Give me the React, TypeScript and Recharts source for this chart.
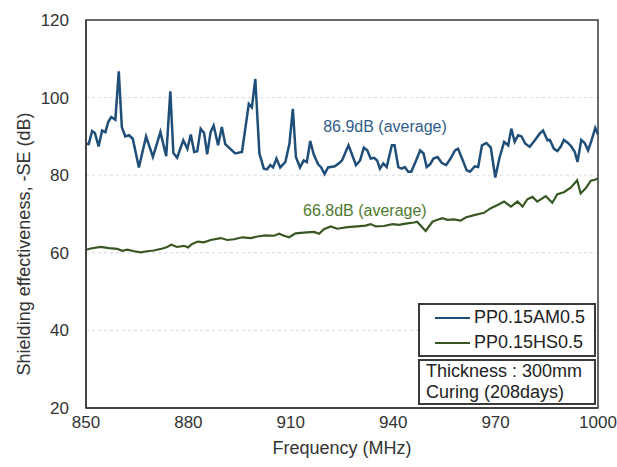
import {
  CartesianGrid,
  Legend,
  Line,
  LineChart,
  ReferenceArea,
  ReferenceDot,
  XAxis,
  YAxis,
} from 'recharts';

// PP0.15AM0.5 sweep
const amFreq = [
  850, 850.8, 851.8, 852.6, 853.7, 854.7, 855.7, 856.5, 857.4, 858.6,
  859.6, 860.5, 861.5, 862.6, 863.7, 865.5, 867.6, 869.6, 871.8, 873.5,
  874.7, 875.6, 876.7, 878.5, 879.7, 880.7, 881.7, 882.6, 883.6, 884.6,
  885.5, 886.5, 887.4, 888.7, 889.8, 890.8, 893.7, 895.7, 897.7, 898.6,
  899.6, 900.8, 902.1, 903, 904, 904.8, 905.8, 906.9, 908.4, 909.6,
  910.6, 911.5, 912.7, 913.8, 914.7, 915.7, 916.7, 918, 918.9, 919.9,
  920.9, 922.9, 924, 925, 926.9, 927.9, 929.1, 930.3, 931.4, 932.4,
  933.4, 934.4, 935.3, 936.1, 937.1, 938.1, 939.6, 940.4, 941.5, 942.5,
  943.4, 944.4, 945.3, 946.7, 947.9, 948.9, 949.8, 950.8, 951.8, 953,
  954.2, 955.5, 956.8, 958.1, 959, 960.4, 961.5, 962.5, 963.9, 964.9,
  966, 967.3, 968.6, 969.9, 971.2, 972.5, 973.7, 974.6, 975.6, 976.6,
  977.6, 978.7, 980, 981.5, 982.9, 983.9, 985.2, 985.9, 987.1, 988.1,
  989.1, 990, 991.2, 992.2, 993.2, 994, 995.1, 996.1, 997.1, 998.1,
  999.2, 1000,
];
const amSE = [
  88.1, 88, 91.4, 90.9, 87.4, 91.5, 91.1, 93.7, 95, 94.3,
  106.8, 92.4, 90, 90.3, 89.4, 82, 90, 84.7, 91.1, 84.9,
  101.6, 85.7, 84.5, 89, 86.8, 90.5, 86, 86.2, 92, 90.9,
  85.4, 91.1, 92.8, 87.7, 92.4, 88, 85.6, 86, 98.4, 97.5,
  104.8, 85.6, 81.7, 81.5, 82.6, 82, 84.3, 82, 83.4, 88.1,
  97.1, 84.7, 82, 83.8, 83.4, 88.8, 85.4, 82.8, 82, 80.3,
  82, 82.3, 83, 83.8, 87.7, 85.4, 82.6, 83.8, 87.1, 86.4,
  84.3, 84.5, 83.8, 81.7, 83, 82.1, 87.7, 87.7, 82.1, 81.7,
  82.1, 80.9, 80.9, 83.8, 86.4, 85.6, 82.1, 82.8, 84.3, 84.7,
  83.2, 82.6, 84.3, 86.4, 86.8, 83.8, 81.3, 80.9, 82.3, 82.1,
  87.7, 88.3, 87.1, 79.4, 84.7, 88.6, 87.7, 92, 88.6, 90.3,
  90, 88.1, 87.3, 89, 90.7, 91.5, 89, 89.1, 86.8, 86.2,
  87.4, 89.1, 88.3, 87.4, 86, 83.4, 89.1, 88.3, 86.4, 89,
  92.2, 90.5,
];

// PP0.15HS0.5 sweep
const hsFreq = [
  850, 851.4, 854.3, 856.7, 859.2, 860.6, 862.1, 864.1, 866, 868,
  869.9, 872.4, 873.8, 875, 876.7, 878.7, 879.9, 881.1, 882.8, 884.5,
  886.5, 889.5, 891.4, 893.4, 895.8, 898.3, 900.2, 902.6, 905.1, 906.6,
  908, 909.5, 911.4, 913.8, 916.8, 918.3, 919.7, 921.7, 923.6, 926.6,
  929.5, 931.9, 933.4, 934.9, 937.3, 939.8, 941.7, 944.1, 946.1, 947,
  949.5, 951.5, 953, 954.4, 955.9, 957.8, 959.8, 961.2, 963.7, 966.6,
  968.6, 970.6, 972.5, 974.5, 976.4, 977.9, 979.3, 980.8, 982.2, 984.7,
  986.6, 988.1, 990, 992, 993.9, 994.9, 996.4, 997.9, 999.3, 1000,
];
const hsSE = [
  60.8, 61.1, 61.5, 61.2, 61, 60.5, 60.8, 60.4, 60.1, 60.4,
  60.6, 61.1, 61.5, 62.1, 61.5, 61.8, 61.4, 62.3, 62.9, 62.7,
  63.3, 63.8, 63.3, 63.5, 64, 63.8, 64.2, 64.5, 64.4, 64.9,
  64.4, 64, 65, 65.2, 65.4, 64.9, 66.1, 66.8, 66.2, 66.6,
  66.8, 67, 67.4, 66.8, 66.9, 67.4, 67.2, 67.6, 67.8, 68,
  65.6, 68, 68.5, 68.9, 68.5, 68.6, 68.3, 69.1, 69.7, 70.3,
  71.5, 72.3, 73.2, 71.9, 73.2, 71.9, 73.8, 74.4, 73.2, 74.6,
  72.9, 75.1, 75.6, 76.8, 78.7, 75.3, 76.6, 78.6, 78.9, 79.2,
];

const xTicks = [850, 880, 910, 940, 970, 1000];
const yTicks = [20, 40, 60, 80, 100, 120];
const amAverage = 86.9;
const hsAverage = 66.8;
const notes = ['Thickness : 300mm', 'Curing (208days)'];

const BLUE = '#1f4e79';
const GREEN = '#385723';
const FRAME = '#3a3a3a';
const FONT = 'Arial, "Liberation Sans", sans-serif';

const amData = amFreq.map((f, i) => ({ f, se: amSE[i] }));
const hsData = hsFreq.map((f, i) => ({ f, se: hsSE[i] }));

function LegendBox({ payload }: any) {
  const box = {
    border: `2px solid ${FRAME}`,
    boxSizing: 'border-box' as const,
    background: '#fff',
    fontFamily: FONT,
    fontSize: 18,
    color: '#222',
  };
  return (
    <div style={{ width: 178 }}>
      <div style={{ ...box, height: 54, paddingLeft: 15 }}>
        {(payload || []).map((p: any) => (
          <div key={p.value} style={{ display: 'flex', alignItems: 'center', height: 25 }}>
            <span style={{ width: 35, height: 2, background: p.color, marginRight: 4 }} />
            <span>{p.value}</span>
          </div>
        ))}
      </div>
      <div style={{ ...box, height: 46, marginTop: 2, paddingLeft: 6, lineHeight: '21px' }}>
        {notes.map((n) => (
          <div key={n}>{n}</div>
        ))}
      </div>
    </div>
  );
}

export default function App() {
  return (
    <div style={{ position: 'absolute', left: 0, top: 0, background: '#fff' }}>
      <LineChart
        width={617}
        height={467}
        margin={{ top: 20, right: 19, bottom: 0, left: 0 }}
        style={{ fontFamily: FONT }}
      >
        <CartesianGrid
          vertical={false}
          stroke="#d9d9d9"
          strokeDasharray="3 3"
        />
        <XAxis
          dataKey="f"
          type="number"
          domain={[850, 1000]}
          ticks={xTicks}
          allowDuplicatedCategory={false}
          height={59}
          stroke={FRAME}
          strokeWidth={1.5}
          tickLine={false}
          tickSize={0}
          tickMargin={8}
          tick={{ fill: '#333', fontSize: 17 }}
          label={{ value: 'Frequency (MHz)', position: 'insideBottom', offset: 13, fill: '#333', fontSize: 18 }}
        />
        <YAxis
          type="number"
          domain={[20, 120]}
          ticks={yTicks}
          width={86}
          stroke={FRAME}
          strokeWidth={1.5}
          tickLine={false}
          tickSize={0}
          tickMargin={17}
          tick={{ fill: '#333', fontSize: 17 }}
          label={({ viewBox }: any) => {
            const x = viewBox.x + 24;
            const y = viewBox.y + viewBox.height / 2 + 30;
            return (
              <text
                x={x}
                y={y}
                transform={`rotate(-90 ${x} ${y})`}
                textAnchor="middle"
                dominantBaseline="central"
                fill="#333"
                fontSize={18}
              >
                Shielding effectiveness, -SE (dB)
              </text>
            );
          }}
        />
        <ReferenceArea x1={850} x2={1000} y1={20} y2={120} fill="none" stroke={FRAME} strokeWidth={1.5} />
        <Line
          data={amData}
          dataKey="se"
          name="PP0.15AM0.5"
          type="linear"
          stroke={BLUE}
          strokeWidth={2.5}
          dot={false}
          isAnimationActive={false}
        />
        <Line
          data={hsData}
          dataKey="se"
          name="PP0.15HS0.5"
          type="linear"
          stroke={GREEN}
          strokeWidth={2.2}
          dot={false}
          isAnimationActive={false}
        />
        <ReferenceDot
          x={937.6}
          y={92.7}
          r={0}
          stroke="none"
          label={{ value: `${amAverage}dB (average)`, position: 'center', fill: '#2f5d8a', fontSize: 16 }}
        />
        <ReferenceDot
          x={931.7}
          y={71}
          r={0}
          stroke="none"
          label={{ value: `${hsAverage}dB (average)`, position: 'center', fill: '#4f7a32', fontSize: 16 }}
        />
        <Legend
          layout="vertical"
          align="center"
          verticalAlign="middle"
          content={<LegendBox />}
          wrapperStyle={{ left: 418, top: 303, width: 178, right: 'auto', bottom: 'auto' }}
        />
      </LineChart>
    </div>
  );
}
